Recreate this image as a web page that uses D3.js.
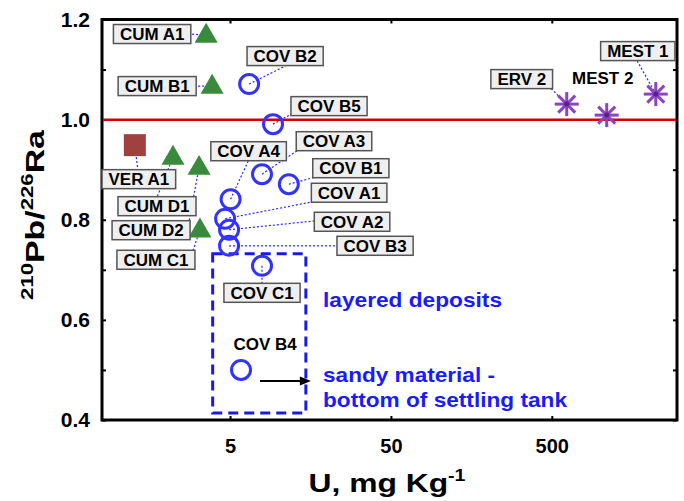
<!DOCTYPE html>
<html>
<head>
<meta charset="utf-8">
<script src="https://cdn.jsdelivr.net/npm/d3@7"></script>
<style>
  body { margin: 0; background: #fff; }
  text { font-family: "Liberation Sans", Arial, sans-serif; font-weight: bold; }
</style>
</head>
<body>
<script>
// data (U in mg/kg, 210Pb/226Ra activity ratio)
var cumNames = ["CUM A1", "CUM B1", "CUM D1", "CUM D2", "CUM C1"];
var cumU = [3.55, 3.87, 2.21, 3.21, 3.25];
var cumRatio = [1.169, 1.067, 0.925, 0.905, 0.78];

var verNames = ["VER A1"];
var verU = [1.28];
var verRatio = [0.949];

var covNames = ["COV B2", "COV B5", "COV A3", "COV A4", "COV B1", "COV A1", "COV A2", "COV B3", "COV C1", "COV B4"];
var covU = [6.57, 9.25, 7.9, 5.04, 11.6, 4.66, 4.93, 4.93, 7.9, 5.85];
var covRatio = [1.071, 0.991, 0.891, 0.841, 0.871, 0.802, 0.78, 0.748, 0.708, 0.5];

var mineNames = ["ERV 2", "MEST 2", "MEST 1"];
var mineU = [619, 1097, 2214];
var mineRatio = [1.031, 1.009, 1.051];

var xTicks = [5, 50, 500];
var yTicks = [0.4, 0.6, 0.8, 1.0, 1.2];
var yMinor = [0.5, 0.7, 0.9, 1.1];
var equilibrium = 1.0;

// dashed box round the layered deposits, and the arrow to the sandy sample
var boxU = [3.9, 14.8], boxRatio = [0.414, 0.732];
var arrowU = [7.67, 15.9], arrowRatio = 0.478;

// label layout: box centre offset, leader anchor offset (px from the marker), boxed or not
var labelPos = {
    "CUM A1": [-54, -1, -17, -1, 1],
    "CUM B1": [-55, 0, -18, 0, 1],
    "VER A1": [4, 34, 3, 25, 1],
    "CUM D1": [-16, 49, -16, 40, 1],
    "CUM D2": [-48, 63, -10, 54, 1],
    "CUM C1": [-44, 30, -7, 21, 1],
    "COV B2": [36, -28, 36, -18, 1],
    "COV B5": [56, -18, 20, -11, 1],
    "COV A3": [72, -33, 36, -24, 1],
    "COV A4": [18, -48, 18, -39, 1],
    "COV B1": [62, -16, 26, -7, 1],
    "COV A1": [124, -26, 88, -17, 1],
    "COV A2": [123, -8, 87, -9, 1],
    "COV B3": [146, 0, 109, 0, 1],
    "COV C1": [0, 27, 0, 18, 1],
    "COV B4": [24, -26, null, null, 0],
    "ERV 2": [-45, -25, -16, -16, 1],
    "MEST 2": [-4, -37, null, null, 0],
    "MEST 1": [-18, -43, -19, -34, 1]
};

var width = 684, height = 501;
var svg = d3.select("body").append("svg")
    .attr("width", width)
    .attr("height", height);

var x = d3.scaleLog().domain([0.8, 3000]).range([102, 677]);
var y = d3.scaleLinear().domain([0.4, 1.2]).range([420, 19.5]);

//stretch text a bit, the source font runs wider than Liberation Sans
function stretch(sel, k){
    sel.each(function(){
        var w = this.getComputedTextLength();
        d3.select(this).attr("textLength", w * k).attr("lengthAdjust", "spacingAndGlyphs");
    });
}

// axes (ticks point inwards, no labels except left/bottom)
var gx = svg.append("g").attr("transform", "translate(0,420)")
    .call(d3.axisBottom(x).tickValues(xTicks).tickSize(-4).tickPadding(14).tickFormat(d3.format("d")));
gx.selectAll("text").attr("font-size", 20).attr("fill", "#000").attr("dy", "0.95em");
var gxTop = svg.append("g").attr("transform", "translate(0,19.5)")
    .call(d3.axisTop(x).tickValues(xTicks).tickSize(-4).tickFormat(""));
var gy = svg.append("g").attr("transform", "translate(102,0)")
    .call(d3.axisLeft(y).tickValues(yTicks).tickSize(-4).tickPadding(12).tickFormat(d3.format(".1f")));
gy.selectAll("text").attr("font-size", 21).attr("fill", "#000");
var gyMinor = svg.append("g").attr("transform", "translate(102,0)")
    .call(d3.axisLeft(y).tickValues(yMinor).tickSize(-4).tickFormat(""));
var gyRight = svg.append("g").attr("transform", "translate(677,0)")
    .call(d3.axisRight(y).tickValues(yTicks.concat(yMinor)).tickSize(-4).tickFormat(""));
svg.selectAll(".domain").remove();
svg.selectAll(".tick line").attr("stroke", "#000").attr("stroke-width", 2);

// frame
svg.append("rect")
    .attr("x", 102).attr("y", 19.5)
    .attr("width", 575).attr("height", 400.5)
    .attr("fill", "none").attr("stroke", "#000").attr("stroke-width", 3);

// secular equilibrium line
svg.append("line")
    .attr("x1", 103).attr("x2", 676)
    .attr("y1", y(equilibrium)).attr("y2", y(equilibrium))
    .attr("stroke", "#d40000").attr("stroke-width", 2.5);

// dashed box
svg.append("rect")
    .attr("x", x(boxU[0])).attr("y", y(boxRatio[1]))
    .attr("width", x(boxU[1]) - x(boxU[0]))
    .attr("height", y(boxRatio[0]) - y(boxRatio[1]))
    .attr("fill", "none").attr("stroke", "#1a1ae6")
    .attr("stroke-width", 3).attr("stroke-dasharray", "10,6");

// arrow, head drawn as its own path
var ax0 = x(arrowU[0]), ax1 = x(arrowU[1]), ay = y(arrowRatio);
svg.append("line")
    .attr("x1", ax0).attr("x2", ax1 - 8)
    .attr("y1", ay).attr("y2", ay)
    .attr("stroke", "#000").attr("stroke-width", 2);
svg.append("path")
    .attr("d", "M" + ax1 + "," + ay + "L" + (ax1 - 11) + "," + (ay - 4.5) + "L" + (ax1 - 11) + "," + (ay + 4.5) + "Z")
    .attr("fill", "#000");

// notes
var notes = svg.append("g").attr("fill", "#1a1aff").attr("font-size", 21);
notes.append("text").attr("x", 323).attr("y", 307).text("layered deposits")
    .attr("textLength", 179).attr("lengthAdjust", "spacingAndGlyphs");
notes.append("text").attr("x", 323).attr("y", 382).text("sandy material -")
    .attr("textLength", 172).attr("lengthAdjust", "spacingAndGlyphs");
notes.append("text").attr("x", 323).attr("y", 407).text("bottom of settling tank")
    .attr("textLength", 244).attr("lengthAdjust", "spacingAndGlyphs");

// build label records for all points
function rows(names, us, rs){
    return names.map(function(n, i){ return {name: n, u: us[i], r: rs[i]}; });
}
var cum = rows(cumNames, cumU, cumRatio),
    ver = rows(verNames, verU, verRatio),
    cov = rows(covNames, covU, covRatio),
    mine = rows(mineNames, mineU, mineRatio);
var all = cum.concat(ver, cov, mine);

// leader lines
svg.append("g").selectAll("line")
    .data(all.filter(function(d){ return labelPos[d.name][2] !== null; }))
    .enter().append("line")
    .attr("x1", function(d){ return x(d.u); })
    .attr("y1", function(d){ return y(d.r); })
    .attr("x2", function(d){ return x(d.u) + labelPos[d.name][2]; })
    .attr("y2", function(d){ return y(d.r) + labelPos[d.name][3]; })
    .attr("stroke", "#2b2bff").attr("stroke-width", 1.2)
    .attr("stroke-dasharray", "2,2");

// markers
var tri = d3.symbol().type(d3.symbolTriangle).size(230);
svg.append("g").selectAll("path")
    .data(cum).enter().append("path")
    .attr("d", tri)
    .attr("transform", function(d){ return "translate(" + x(d.u) + "," + (y(d.r) + 1) + ")"; })
    .attr("fill", "#3a8a3e");

svg.append("g").selectAll("rect")
    .data(ver).enter().append("rect")
    .attr("x", function(d){ return x(d.u) - 11; })
    .attr("y", function(d){ return y(d.r) - 11; })
    .attr("width", 22).attr("height", 22)
    .attr("fill", "#a0403f");

svg.append("g").selectAll("circle")
    .data(cov).enter().append("circle")
    .attr("cx", function(d){ return x(d.u); })
    .attr("cy", function(d){ return y(d.r); })
    .attr("r", 9.5)
    .attr("fill", "none").attr("stroke", "#3333ff").attr("stroke-width", 3);

var star = svg.append("g").selectAll("g")
    .data(mine).enter().append("g")
    .attr("transform", function(d){ return "translate(" + x(d.u) + "," + y(d.r) + ")"; });
[0, 45, 90, 135].forEach(function(a){
    star.append("line")
        .attr("x1", 0).attr("y1", -12).attr("x2", 0).attr("y2", 12)
        .attr("transform", "rotate(" + a + ")")
        .attr("stroke", "#8a44c2").attr("stroke-width", 3);
});
star.append("circle").attr("r", 2.5).attr("fill", "#5a1f8f");

// labels
var lab = svg.append("g").selectAll("g")
    .data(all).enter().append("g")
    .attr("transform", function(d){
        var p = labelPos[d.name];
        return "translate(" + (x(d.u) + p[0]) + "," + (y(d.r) + p[1]) + ")";
    });
lab.each(function(d){
    var g = d3.select(this);
    var boxed = labelPos[d.name][4];
    var rect = boxed ? g.append("rect") : null;
    var t = g.append("text")
        .attr("text-anchor", "middle")
        .attr("dy", "0.36em")
        .attr("font-size", 16)
        .attr("fill", "#000")
        .text(d.name);
    stretch(t, 1.06);
    if (rect){
        var w = +t.attr("textLength") + 13;
        rect.attr("x", -w / 2).attr("y", -9.5)
            .attr("width", w).attr("height", 19)
            .attr("fill", "#efefef").attr("stroke", "#555").attr("stroke-width", 1.5);
    }
});

// axis titles
svg.append("text")
    .attr("x", 387).attr("y", 492)
    .attr("text-anchor", "middle")
    .attr("font-size", 26)
    .attr("textLength", 157).attr("lengthAdjust", "spacingAndGlyphs")
    .call(function(t){
        t.append("tspan").text("U, mg Kg");
        t.append("tspan").attr("font-size", 16).attr("dy", -11).text("-1");
    });

svg.append("text")
    .attr("transform", "translate(44,215) rotate(-90)")
    .attr("text-anchor", "middle")
    .attr("font-size", 26)
    .attr("textLength", 170).attr("lengthAdjust", "spacingAndGlyphs")
    .call(function(t){
        t.append("tspan").attr("font-size", 17).attr("dy", -11).text("210");
        t.append("tspan").attr("dy", 11).text("Pb/");
        t.append("tspan").attr("font-size", 17).attr("dy", -11).text("226");
        t.append("tspan").attr("dy", 11).text("Ra");
    });
</script>
</body>
</html>
